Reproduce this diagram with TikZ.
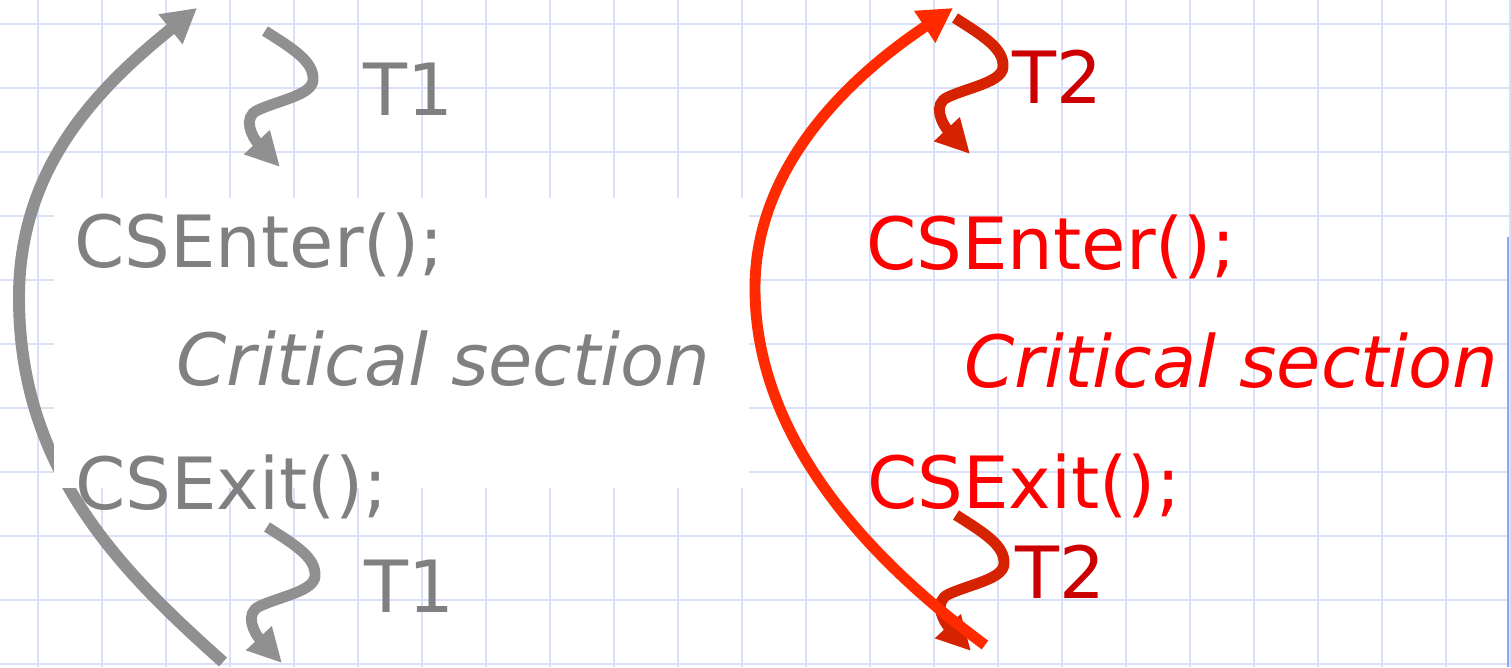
\documentclass[tikz,border=0pt]{standalone}
\usepackage{fontspec}
\setmainfont{DejaVu Sans}
\usetikzlibrary{arrows.meta}

\definecolor{gridblue}{HTML}{D8E0FA}
\definecolor{edgeblue}{HTML}{8EA9F4}
\definecolor{arcgray}{HTML}{909090}
\definecolor{txtgray}{HTML}{808080}
\definecolor{arcred}{HTML}{FF2A00}
\definecolor{wigred}{HTML}{D52200}
\definecolor{labred}{HTML}{CC0000}
\definecolor{txtred}{HTML}{FF0000}

\tikzset{
  gridline/.style={gridblue, line width=1.2pt},
  bigarc/.style={line width=6.8pt, -{Triangle[length=0.68cm,width=0.72cm]}},
  wiggle/.style={line width=6.2pt, -{Triangle[length=0.68cm,width=0.66cm]}},
  code/.style={anchor=base west, inner sep=0pt, font=\fontsize{41}{48}\selectfont},
  crit/.style={anchor=base west, inner sep=0pt, font=\fontsize{41}{48}\selectfont\itshape},
}

\begin{document}
\begin{tikzpicture}[x=0.02cm, y=-0.02cm]
  \useasboundingbox (0,0) rectangle (1511,667);
  \fill[white] (0,0) rectangle (1511,667);

  % squared paper
  \foreach \i in {0,...,23} \draw[gridline] ({38+64*\i},0) -- ({38+64*\i},667);
  \foreach \j in {0,...,10} \draw[gridline] (0,{24+64*\j}) -- (1511,{24+64*\j});
  \draw[edgeblue, line width=0.9pt] (1508,237) -- (1508,667);

  % thread T1: loop arc
  \coordinate (g-bot) at (223,662);
  \coordinate (g-left) at (19,300);
  \coordinate (g-top) at (197,8);
  \draw[bigarc, arcgray] (g-bot) .. controls (120,570) and (20,470) .. (g-left)
        .. controls (18,170) and (95,90) .. (g-top);

  % white panel behind the T1 code
  \fill[white] (54,198) rectangle (749,488);

  % T1 wiggles
  \begin{scope}
    \coordinate (g1s) at (265,31); \coordinate (g1e) at (280,167);
    \draw[wiggle, arcgray] (g1s) .. controls +(30,19) and (314,62) .. (313,80)
      .. controls (312,95) and (280,100) .. (258,110)
      .. controls (242,117) and (252,137) .. (g1e);
  \end{scope}
  \begin{scope}[shift={(2,496)}]
    \coordinate (g2s) at (265,31); \coordinate (g2e) at (280,167);
    \draw[wiggle, arcgray] (g2s) .. controls +(30,19) and (314,62) .. (313,80)
      .. controls (312,95) and (280,100) .. (258,110)
      .. controls (242,117) and (252,137) .. (g2e);
  \end{scope}

  % T2 wiggles
  \begin{scope}[shift={(690,-13)}]
    \coordinate (r1s) at (265,31); \coordinate (r1e) at (280,167);
    \draw[wiggle, wigred] (r1s) .. controls +(30,19) and (314,62) .. (313,80)
      .. controls (312,95) and (280,100) .. (258,110)
      .. controls (242,117) and (252,137) .. (r1e);
  \end{scope}
  \begin{scope}[shift={(691,484)}]
    \coordinate (r2s) at (265,31); \coordinate (r2e) at (280,167);
    \draw[wiggle, wigred] (r2s) .. controls +(30,19) and (314,62) .. (313,80)
      .. controls (312,95) and (280,100) .. (258,110)
      .. controls (242,117) and (252,137) .. (r2e);
  \end{scope}

  % thread T2: loop arc
  \coordinate (r-bot) at (985,645);
  \coordinate (r-left) at (755,290);
  \coordinate (r-top) at (953,8);
  \draw[line width=6.2pt, arcred, -{Triangle[length=0.68cm,width=0.72cm]}]
        (r-bot) .. controls (870,560) and (756,440) .. (r-left)
        .. controls (754,170) and (845,80) .. (r-top);

  % T1 code
  \node[code, txtgray] (g-enter) at (74,267) {CSEnter();};
  \node[crit, txtgray] (g-crit) at (176,385) {Critical section};
  \node[code, txtgray] (g-exit) at (75,509) {CSExit();};
  \node[code, txtgray] (g-lab1) at (363,115) {T1};
  \node[code, txtgray] (g-lab2) at (364,612) {T1};

  % T2 code
  \node[code, txtred] (r-enter) at (866,269) {CSEnter();};
  \node[crit, txtred] (r-crit) at (964,387) {Critical section};
  \node[code, txtred] (r-exit) at (867,508) {CSExit();};
  \node[code, labred] (r-lab1) at (1012,103) {T2};
  \node[code, labred] (r-lab2) at (1015,598) {T2};
\end{tikzpicture}
\end{document}
